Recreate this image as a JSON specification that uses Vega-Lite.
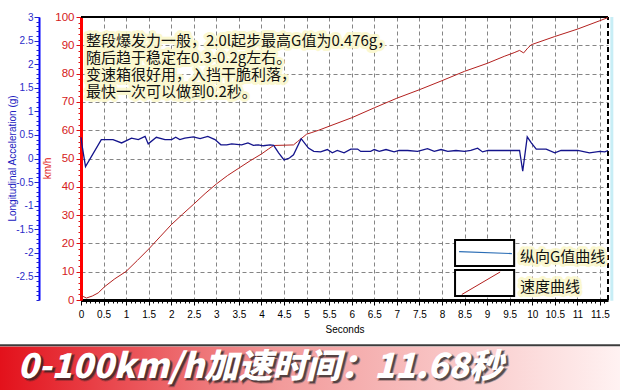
{
  "$schema": "https://vega.github.io/schema/vega-lite/v6.json",
  "width": 527,
  "height": 283,
  "autosize": "none",
  "padding": {"left": 81, "top": 17, "right": 12, "bottom": 90},
  "background": "white",
  "config": {
    "view": {"stroke": null},
    "font": "Liberation Sans",
    "axis": {"labelFont": "Liberation Sans", "titleFont": "Liberation Sans"}
  },
  "datasets": {
    "speed": [
      {"t": 0, "v": 1.6}, {"t": 0.12, "v": 0.7}, {"t": 0.25, "v": 1.4}, {"t": 0.38, "v": 2.5},
      {"t": 0.53, "v": 4.8}, {"t": 0.75, "v": 7.5}, {"t": 1.0, "v": 10.1}, {"t": 1.25, "v": 14.0},
      {"t": 1.5, "v": 18.0}, {"t": 1.75, "v": 22.3}, {"t": 2.0, "v": 26.6}, {"t": 2.25, "v": 30.3},
      {"t": 2.5, "v": 33.9}, {"t": 2.75, "v": 37.6}, {"t": 3.0, "v": 41.0}, {"t": 3.25, "v": 44.0},
      {"t": 3.5, "v": 46.6}, {"t": 3.75, "v": 49.2}, {"t": 4.0, "v": 51.6}, {"t": 4.15, "v": 53.3},
      {"t": 4.27, "v": 54.6}, {"t": 4.5, "v": 54.7}, {"t": 4.71, "v": 54.8}, {"t": 4.8, "v": 56.0},
      {"t": 4.88, "v": 57.0}, {"t": 5.0, "v": 58.6}, {"t": 5.1, "v": 59.1}, {"t": 5.27, "v": 60.0},
      {"t": 5.5, "v": 61.4}, {"t": 6.0, "v": 64.4}, {"t": 6.5, "v": 67.9}, {"t": 7.0, "v": 71.3},
      {"t": 7.5, "v": 74.3}, {"t": 8.0, "v": 77.5}, {"t": 8.5, "v": 80.8}, {"t": 9.0, "v": 83.6},
      {"t": 9.38, "v": 86.1}, {"t": 9.6, "v": 87.4}, {"t": 9.72, "v": 88.2}, {"t": 9.81, "v": 87.3},
      {"t": 9.9, "v": 89.0}, {"t": 9.98, "v": 90.2}, {"t": 10.5, "v": 93.1}, {"t": 11.0, "v": 95.7},
      {"t": 11.5, "v": 98.7}, {"t": 11.68, "v": 99.8}
    ],
    "g": [
      {"t": 0, "g": 0.45}, {"t": 0.02, "g": 0.3}, {"t": 0.1, "g": -0.17}, {"t": 0.45, "g": 0.4},
      {"t": 0.71, "g": 0.4}, {"t": 0.9, "g": 0.33}, {"t": 1.12, "g": 0.43}, {"t": 1.27, "g": 0.4},
      {"t": 1.42, "g": 0.47}, {"t": 1.49, "g": 0.31}, {"t": 1.67, "g": 0.45}, {"t": 1.86, "g": 0.4},
      {"t": 2.01, "g": 0.4}, {"t": 2.1, "g": 0.45}, {"t": 2.19, "g": 0.4}, {"t": 2.3, "g": 0.43},
      {"t": 2.49, "g": 0.46}, {"t": 2.64, "g": 0.42}, {"t": 2.81, "g": 0.47}, {"t": 2.97, "g": 0.4},
      {"t": 3.1, "g": 0.29}, {"t": 3.23, "g": 0.29}, {"t": 3.34, "g": 0.31}, {"t": 3.56, "g": 0.29},
      {"t": 3.7, "g": 0.33}, {"t": 3.82, "g": 0.28}, {"t": 3.93, "g": 0.29}, {"t": 4.04, "g": 0.27},
      {"t": 4.19, "g": 0.29}, {"t": 4.27, "g": 0.28}, {"t": 4.38, "g": 0.12}, {"t": 4.5, "g": -0.03},
      {"t": 4.62, "g": 0.01}, {"t": 4.71, "g": 0.08}, {"t": 4.88, "g": 0.42}, {"t": 5.04, "g": 0.22},
      {"t": 5.16, "g": 0.15}, {"t": 5.31, "g": 0.14}, {"t": 5.46, "g": 0.19}, {"t": 5.57, "g": 0.12},
      {"t": 5.68, "g": 0.17}, {"t": 5.83, "g": 0.12}, {"t": 5.98, "g": 0.2}, {"t": 6.13, "g": 0.2},
      {"t": 6.2, "g": 0.15}, {"t": 6.42, "g": 0.15}, {"t": 6.5, "g": 0.19}, {"t": 6.61, "g": 0.15},
      {"t": 6.76, "g": 0.19}, {"t": 6.94, "g": 0.14}, {"t": 7.05, "g": 0.17}, {"t": 7.24, "g": 0.17},
      {"t": 7.46, "g": 0.15}, {"t": 7.68, "g": 0.21}, {"t": 7.83, "g": 0.15}, {"t": 7.98, "g": 0.19},
      {"t": 8.13, "g": 0.15}, {"t": 8.31, "g": 0.17}, {"t": 8.5, "g": 0.15}, {"t": 8.64, "g": 0.17},
      {"t": 8.79, "g": 0.22}, {"t": 8.9, "g": 0.14}, {"t": 9.02, "g": 0.17}, {"t": 9.24, "g": 0.17},
      {"t": 9.72, "g": 0.17}, {"t": 9.79, "g": -0.27}, {"t": 9.89, "g": 0.46}, {"t": 9.98, "g": 0.33},
      {"t": 10.09, "g": 0.2}, {"t": 10.31, "g": 0.2}, {"t": 10.5, "g": 0.12}, {"t": 10.64, "g": 0.17},
      {"t": 11.01, "g": 0.17}, {"t": 11.27, "g": 0.12}, {"t": 11.5, "g": 0.15}, {"t": 11.61, "g": 0.14},
      {"t": 11.68, "g": 0.17}
    ]
  },
  "layer": [
    {
      "data": {"values": [{}]},
      "mark": {"type": "rect", "fill": {"gradient": "linear", "x1": 0, "y1": 0, "x2": 1, "y2": 0, "stops": [{"offset": 0, "color": "#e3111b"}, {"offset": 0.45, "color": "#f29a9a"}, {"offset": 1, "color": "#fff2f2"}]}},
      "encoding": {
        "x": {"datum": -1.8, "type": "quantitative", "scale": {"domain": [0, 11.68], "nice": false, "zero": false}, "axis": null},
        "x2": {"datum": 11.95},
        "y": {"datum": -16.4, "type": "quantitative", "scale": {"domain": [0, 100], "nice": false, "zero": false}, "axis": null},
        "y2": {"datum": -33}
      }
    },
    {
      "data": {"values": [{}]},
      "mark": {"type": "rule", "color": "#3c3c3c", "strokeWidth": 2},
      "encoding": {
        "x": {"datum": -1.8, "type": "quantitative", "scale": {"domain": [0, 11.68], "nice": false, "zero": false}, "axis": null},
        "x2": {"datum": 11.95},
        "y": {"datum": -16.0, "type": "quantitative", "scale": {"domain": [0, 100], "nice": false, "zero": false}, "axis": null}
      }
    },
    {
      "data": {"values": [{}]},
      "mark": {"type": "text", "text": "0-100km/h加速时间：11.68秒", "font": "Noto Sans CJK SC", "fontSize": 34, "fontWeight": 900, "fontStyle": "italic", "align": "left", "baseline": "middle", "dx": 2, "dy": 2, "fill": "#222222", "opacity": 0.75, "stroke": "#222222", "strokeWidth": 2, "strokeOpacity": 0.4},
      "encoding": {
        "x": {"datum": -1.4, "type": "quantitative", "scale": {"domain": [0, 11.68], "nice": false, "zero": false}, "axis": null},
        "y": {"datum": -23.9, "type": "quantitative", "scale": {"domain": [0, 100], "nice": false, "zero": false}, "axis": null}
      }
    },
    {
      "data": {"values": [{}]},
      "mark": {"type": "text", "text": "0-100km/h加速时间：11.68秒", "font": "Noto Sans CJK SC", "fontSize": 34, "fontWeight": 900, "fontStyle": "italic", "align": "left", "baseline": "middle", "fill": "#ffffff"},
      "encoding": {
        "x": {"datum": -1.4, "type": "quantitative", "scale": {"domain": [0, 11.68], "nice": false, "zero": false}, "axis": null},
        "y": {"datum": -23.9, "type": "quantitative", "scale": {"domain": [0, 100], "nice": false, "zero": false}, "axis": null}
      }
    },
    {
      "data": {"values": [{}]},
      "mark": {"type": "rule", "color": "#c8eef6", "strokeWidth": 3},
      "encoding": {
        "x": {"datum": 11.765, "type": "quantitative", "scale": {"domain": [0, 11.68], "nice": false, "zero": false}, "axis": null},
        "y": {"datum": -0.3, "type": "quantitative", "scale": {"domain": [0, 100], "nice": false, "zero": false}, "axis": null},
        "y2": {"datum": 100}
      }
    },
    {
      "data": {"values": [{}]},
      "mark": {"type": "rule", "color": "#000000", "strokeWidth": 2, "strokeDash": [5, 3]},
      "encoding": {
        "x": {"datum": 11.68, "type": "quantitative", "scale": {"domain": [0, 11.68], "nice": false, "zero": false}, "axis": null},
        "y": {"datum": 0, "type": "quantitative", "scale": {"domain": [0, 100], "nice": false, "zero": false}, "axis": null},
        "y2": {"datum": 100}
      }
    },
    {
      "data": {"values": [{}]},
      "mark": {"type": "rule", "color": "#000000", "strokeWidth": 2},
      "encoding": {
        "x": {
          "datum": 0, "type": "quantitative",
          "scale": {"domain": [0, 11.68], "nice": false, "zero": false},
          "axis": {
            "orient": "bottom",
            "values": [0,0.1,0.2,0.3,0.4,0.5,0.6,0.7,0.8,0.9,1,1.1,1.2,1.3,1.4,1.5,1.6,1.7,1.8,1.9,2,2.1,2.2,2.3,2.4,2.5,2.6,2.7,2.8,2.9,3,3.1,3.2,3.3,3.4,3.5,3.6,3.7,3.8,3.9,4,4.1,4.2,4.3,4.4,4.5,4.6,4.7,4.8,4.9,5,5.1,5.2,5.3,5.4,5.5,5.6,5.7,5.8,5.9,6,6.1,6.2,6.3,6.4,6.5,6.6,6.7,6.8,6.9,7,7.1,7.2,7.3,7.4,7.5,7.6,7.7,7.8,7.9,8,8.1,8.2,8.3,8.4,8.5,8.6,8.7,8.8,8.9,9,9.1,9.2,9.3,9.4,9.5,9.6,9.7,9.8,9.9,10,10.1,10.2,10.3,10.4,10.5,10.6,10.7,10.8,10.9,11,11.1,11.2,11.3,11.4,11.5,11.6],
            "labels": false, "domain": false, "grid": false, "title": null,
            "tickColor": "#000000", "tickSize": 3, "tickWidth": 1
          }
        },
        "x2": {"datum": 11.68},
        "y": {
          "datum": 100, "type": "quantitative",
          "scale": {"domain": [0, 100], "nice": false, "zero": false},
          "axis": {
            "orient": "left",
            "values": [0,2,4,6,8,10,12,14,16,18,20,22,24,26,28,30,32,34,36,38,40,42,44,46,48,50,52,54,56,58,60,62,64,66,68,70,72,74,76,78,80,82,84,86,88,90,92,94,96,98,100],
            "labels": false, "domain": false, "grid": false, "title": null,
            "tickColor": "#e01010", "tickSize": 3, "tickWidth": 1
          }
        }
      }
    },
    {
      "data": {"name": "speed"},
      "mark": {"type": "line", "color": "#b3201e", "strokeWidth": 1},
      "encoding": {
        "x": {
          "field": "t", "type": "quantitative",
          "scale": {"domain": [0, 11.68], "nice": false, "zero": false},
          "axis": {
            "orient": "bottom",
            "values": [0,0.5,1,1.5,2,2.5,3,3.5,4,4.5,5,5.5,6,6.5,7,7.5,8,8.5,9,9.5,10,10.5,11,11.5],
            "labelExpr": "''+datum.value",
            "labelOverlap": false, "labelFlush": false, "labelBound": false,
            "labelFontSize": 10, "labelColor": "#000000", "labelPadding": 4,
            "domainColor": "#000000", "domainWidth": 3,
            "tickColor": "#000000", "tickSize": 5, "tickWidth": 1,
            "grid": true, "gridColor": "#858585", "gridDash": [4, 3], "gridWidth": 1,
            "title": "Seconds", "titleFontSize": 10, "titleFontWeight": "normal", "titleColor": "#000000",
            "titleY": 29, "titleBaseline": "middle"
          }
        },
        "y": {
          "field": "v", "type": "quantitative",
          "scale": {"domain": [0, 100], "nice": false, "zero": false},
          "axis": {
            "orient": "left",
            "values": [0,10,20,30,40,50,60,70,80,90,100],
            "labelExpr": "''+datum.value",
            "labelOverlap": false, "labelFlush": false, "labelBound": false,
            "labelFontSize": 11.5, "labelColor": "#d42020", "labelPadding": 2,
            "domainColor": "#ff0000", "domainWidth": 3,
            "tickColor": "#e01010", "tickSize": 5, "tickWidth": 1,
            "grid": true, "gridColor": "#858585", "gridDash": [4, 3], "gridWidth": 1,
            "title": "km/h", "titleFontSize": 10, "titleFontWeight": "normal", "titleColor": "#e01010",
            "titleX": -34, "titleY": 151, "titleAngle": -90, "titleAlign": "center", "titleBaseline": "middle"
          }
        }
      }
    },
    {
      "data": {"name": "g"},
      "mark": {"type": "line", "color": "#14148c", "strokeWidth": 1.3},
      "encoding": {
        "x": {"field": "t", "type": "quantitative", "scale": {"domain": [0, 11.68], "nice": false, "zero": false}, "axis": null},
        "y": {
          "field": "g", "type": "quantitative",
          "scale": {"domain": [-3, 3], "nice": false, "zero": false},
          "axis": {
            "orient": "left", "offset": 42,
            "values": [-2.5,-2,-1.5,-1,-0.5,0,0.5,1,1.5,2,2.5,3],
            "labelExpr": "''+datum.value",
            "labelOverlap": false, "labelFlush": false, "labelBound": false,
            "labelFontSize": 10, "labelColor": "#2b2bc8", "labelPadding": 1,
            "domainColor": "#0000ff", "domainWidth": 2,
            "tickColor": "#2020d0", "tickSize": 5, "tickWidth": 1,
            "grid": false,
            "title": "Longitudinal Acceleration (g)", "titleFontSize": 10, "titleFontWeight": "normal", "titleColor": "#2020c0",
            "titleX": -27, "titleY": 141, "titleAngle": -90, "titleAlign": "center", "titleBaseline": "middle"
          }
        }
      }
    },
    {
      "data": {"values": [{}]},
      "mark": {"type": "point", "opacity": 0},
      "encoding": {
        "x": {"datum": 0, "type": "quantitative", "scale": {"domain": [0, 11.68], "nice": false, "zero": false}, "axis": null},
        "y": {
          "datum": 0, "type": "quantitative",
          "scale": {"domain": [-3, 3], "nice": false, "zero": false},
          "axis": {
            "orient": "left", "offset": 42,
            "values": [-3,-2.9,-2.8,-2.7,-2.6,-2.5,-2.4,-2.3,-2.2,-2.1,-2,-1.9,-1.8,-1.7,-1.6,-1.5,-1.4,-1.3,-1.2,-1.1,-1,-0.9,-0.8,-0.7,-0.6,-0.5,-0.4,-0.3,-0.2,-0.1,0,0.1,0.2,0.3,0.4,0.5,0.6,0.7,0.8,0.9,1,1.1,1.2,1.3,1.4,1.5,1.6,1.7,1.8,1.9,2,2.1,2.2,2.3,2.4,2.5,2.6,2.7,2.8,2.9,3],
            "labels": false, "domain": false, "grid": false, "title": null,
            "tickColor": "#2020d0", "tickSize": 3, "tickWidth": 1
          }
        }
      }
    },
    {
      "data": {"values": [{}]},
      "mark": {"type": "text", "text": ["整段爆发力一般，2.0l起步最高G值为0.476g，", "随后趋于稳定在0.3-0.2g左右。", "变速箱很好用，入挡干脆利落，", "最快一次可以做到0.2秒。"], "font": "Noto Sans CJK SC", "fontSize": 15, "lineHeight": 17, "align": "left", "baseline": "middle", "fill": "#fbf8cc", "stroke": "#fbf8cc", "strokeWidth": 6, "strokeJoin": "round", "opacity": 0.9},
      "encoding": {
        "x": {"datum": 0.11, "type": "quantitative", "scale": {"domain": [0, 11.68], "nice": false, "zero": false}, "axis": null},
        "y": {"datum": 91.5, "type": "quantitative", "scale": {"domain": [0, 100], "nice": false, "zero": false}, "axis": null}
      }
    },
    {
      "data": {"values": [{}]},
      "mark": {"type": "text", "text": ["整段爆发力一般，2.0l起步最高G值为0.476g，", "随后趋于稳定在0.3-0.2g左右。", "变速箱很好用，入挡干脆利落，", "最快一次可以做到0.2秒。"], "font": "Noto Sans CJK SC", "fontSize": 15, "lineHeight": 17, "align": "left", "baseline": "middle", "fill": "#111111"},
      "encoding": {
        "x": {"datum": 0.11, "type": "quantitative", "scale": {"domain": [0, 11.68], "nice": false, "zero": false}, "axis": null},
        "y": {"datum": 91.5, "type": "quantitative", "scale": {"domain": [0, 100], "nice": false, "zero": false}, "axis": null}
      }
    },
    {
      "data": {"values": [{}]},
      "mark": {"type": "rect", "fill": "#ffffff", "stroke": "#000000", "strokeWidth": 2},
      "encoding": {
        "x": {"datum": 8.29, "type": "quantitative", "scale": {"domain": [0, 11.68], "nice": false, "zero": false}, "axis": null},
        "x2": {"datum": 9.6},
        "y": {"datum": 21.2, "type": "quantitative", "scale": {"domain": [0, 100], "nice": false, "zero": false}, "axis": null},
        "y2": {"datum": 12.0}
      }
    },
    {
      "data": {"values": [{}]},
      "mark": {"type": "rect", "fill": "#ffffff", "stroke": "#000000", "strokeWidth": 2},
      "encoding": {
        "x": {"datum": 8.29, "type": "quantitative", "scale": {"domain": [0, 11.68], "nice": false, "zero": false}, "axis": null},
        "x2": {"datum": 9.6},
        "y": {"datum": 10.6, "type": "quantitative", "scale": {"domain": [0, 100], "nice": false, "zero": false}, "axis": null},
        "y2": {"datum": 1.4}
      }
    },
    {
      "data": {"values": [{}]},
      "mark": {"type": "rule", "color": "#2a6db5", "strokeWidth": 1.2},
      "encoding": {
        "x": {"datum": 8.38, "type": "quantitative", "scale": {"domain": [0, 11.68], "nice": false, "zero": false}, "axis": null},
        "x2": {"datum": 9.55},
        "y": {"datum": 17.1, "type": "quantitative", "scale": {"domain": [0, 100], "nice": false, "zero": false}, "axis": null},
        "y2": {"datum": 16.4}
      }
    },
    {
      "data": {"values": [{}]},
      "mark": {"type": "rule", "color": "#b3201e", "strokeWidth": 1},
      "encoding": {
        "x": {"datum": 8.44, "type": "quantitative", "scale": {"domain": [0, 11.68], "nice": false, "zero": false}, "axis": null},
        "x2": {"datum": 9.29},
        "y": {"datum": 1.94, "type": "quantitative", "scale": {"domain": [0, 100], "nice": false, "zero": false}, "axis": null},
        "y2": {"datum": 9.9}
      }
    },
    {
      "data": {"values": [{}]},
      "mark": {"type": "text", "text": ["纵向G值曲线", "速度曲线"], "font": "Noto Sans CJK SC", "fontSize": 15, "lineHeight": 30.3, "align": "left", "baseline": "middle", "fill": "#fbf8cc", "stroke": "#fbf8cc", "strokeWidth": 6, "strokeJoin": "round", "opacity": 0.9},
      "encoding": {
        "x": {"datum": 9.73, "type": "quantitative", "scale": {"domain": [0, 11.68], "nice": false, "zero": false}, "axis": null},
        "y": {"datum": 15.3, "type": "quantitative", "scale": {"domain": [0, 100], "nice": false, "zero": false}, "axis": null}
      }
    },
    {
      "data": {"values": [{}]},
      "mark": {"type": "text", "text": ["纵向G值曲线", "速度曲线"], "font": "Noto Sans CJK SC", "fontSize": 15, "lineHeight": 30.3, "align": "left", "baseline": "middle", "fill": "#111111"},
      "encoding": {
        "x": {"datum": 9.73, "type": "quantitative", "scale": {"domain": [0, 11.68], "nice": false, "zero": false}, "axis": null},
        "y": {"datum": 15.3, "type": "quantitative", "scale": {"domain": [0, 100], "nice": false, "zero": false}, "axis": null}
      }
    }
  ],
  "resolve": {"scale": {"y": "independent"}, "axis": {"x": "independent", "y": "independent"}}
}
